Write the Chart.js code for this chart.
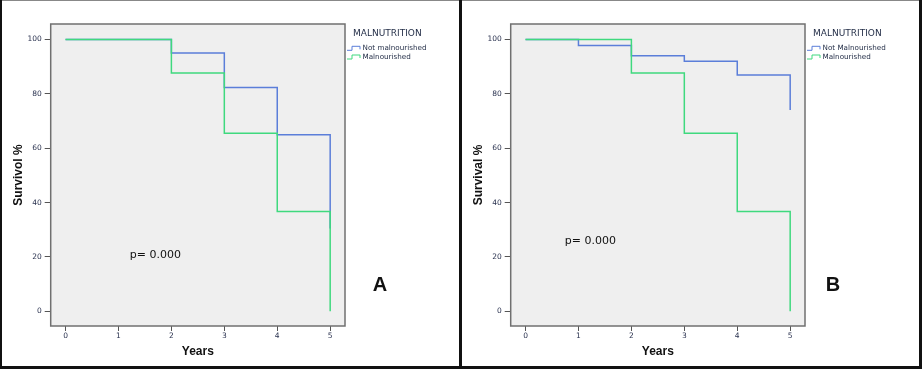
<!DOCTYPE html>
<html lang="en">
<head>
<meta charset="utf-8">
<title>Survival by malnutrition status</title>
<script src="https://cdn.jsdelivr.net/npm/chart.js@4.4.0/dist/chart.umd.min.js"></script>
<style>
  html, body { margin: 0; padding: 0; background: #fff; }
  #frame { position: relative; width: 922px; height: 369px; overflow: hidden; }
  .edge { position: absolute; background: #111; }
  .panel { position: absolute; top: 1px; width: 457px; height: 365px; }
</style>
</head>
<body>
<div id="frame">
  <div class="panel" style="left:2px"><canvas id="chartA" width="457" height="365"></canvas></div>
  <div class="panel" style="left:462px"><canvas id="chartB" width="457" height="365"></canvas></div>
  <div class="edge" style="left:0;top:0;width:922px;height:1px;background:#888"></div>
  <div class="edge" style="left:0;top:0;width:2px;height:369px"></div>
  <div class="edge" style="left:919px;top:0;width:3px;height:369px"></div>
  <div class="edge" style="left:0;top:366px;width:922px;height:3px"></div>
  <div class="edge" style="left:459px;top:0;width:3px;height:369px"></div>
</div>
<script>
  // survival steps
  var yearsA = [0, 2, 3, 4, 5];
  var notMalnourishedA = [100, 95, 82.3, 65, 30.5];
  var malnourishedA = [100, 87.7, 65.5, 36.7, 0];

  var yearsB = [0, 1, 2, 3, 4, 5];
  var notMalnourishedB = [100, 97.8, 94, 92, 86.9, 74.1];
  var yearsBMal = [0, 2, 3, 4, 5];
  var malnourishedB = [100, 87.7, 65.5, 36.7, 0];

  var yearTicks = [0, 1, 2, 3, 4, 5];
  var survivalTicks = [0, 20, 40, 60, 80, 100];

  var BLUE = '#5b7ed9';
  var GREEN = '#3fd97e';
  var TICK_COLOR = '#2b3350';

  function points(xs, ys) {
    return xs.map(function (x, i) { return { x: x, y: ys[i] }; });
  }

  function decor(o) {
    return {
      id: 'decor',
      beforeDraw: function (chart) {
        var ctx = chart.ctx, a = chart.chartArea;
        ctx.save();
        ctx.fillStyle = '#efefef';
        ctx.fillRect(a.left, a.top, a.right - a.left, a.bottom - a.top);
        ctx.restore();
      },
      afterDraw: function (chart) {
        var ctx = chart.ctx, a = chart.chartArea;
        var xs = chart.scales.x, ys = chart.scales.y;
        ctx.save();
        // plot frame
        ctx.strokeStyle = '#707070';
        ctx.lineWidth = 1.5;
        ctx.strokeRect(a.left, a.top, a.right - a.left, a.bottom - a.top);

        // legend
        ctx.fillStyle = '#1f2a44';
        ctx.textBaseline = 'middle';
        ctx.textAlign = 'left';
        ctx.font = '9px "DejaVu Sans"';
        ctx.fillText(o.legendTitle, 351, 32.7);
        ctx.font = '7.2px "DejaVu Sans"';
        chart.data.datasets.forEach(function (ds, i) {
          var y = 47.3 + i * 8.7;
          ctx.strokeStyle = ds.borderColor;
          ctx.lineWidth = 1;
          ctx.beginPath();
          ctx.moveTo(345, y + 2);
          ctx.lineTo(350, y + 2);
          ctx.lineTo(350, y - 2);
          ctx.lineTo(358, y - 2);
          ctx.lineTo(358, y + 1);
          ctx.stroke();
          ctx.fillStyle = '#1f2a44';
          ctx.fillText(ds.label, 360.5, y);
        });

        // p value
        ctx.fillStyle = '#111';
        ctx.font = '11px "DejaVu Sans"';
        ctx.fillText(o.pText, xs.getPixelForValue(o.pAt[0]), ys.getPixelForValue(o.pAt[1]));

        // panel letter
        ctx.font = 'bold 20px "Liberation Sans"';
        ctx.textAlign = 'center';
        ctx.fillText(o.letter, o.letterAt[0], o.letterAt[1]);
        ctx.restore();
      }
    };
  }

  function makeConfig(o) {
    return {
      type: 'line',
      data: {
        datasets: [{
          label: o.labels[0],
          data: points(o.xBlue, o.yBlue),
          borderColor: BLUE,
          order: 1
        }, {
          label: o.labels[1],
          data: points(o.xGreen, o.yGreen),
          borderColor: GREEN,
          order: 0
        }]
      },
      options: {
        responsive: false,
        animation: false,
        layout: { padding: { top: 23, right: 114, left: 0, bottom: 0 } },
        elements: {
          line: { stepped: 'before', borderWidth: 1.5, fill: false },
          point: { radius: 0, hoverRadius: 0 }
        },
        plugins: { legend: { display: false }, tooltip: { enabled: false } },
        scales: {
          x: {
            type: 'linear',
            min: -0.28,
            max: 5.28,
            afterBuildTicks: function (s) { s.ticks = yearTicks.map(function (v) { return { value: v }; }); },
            afterFit: function (s) { s.height = 40; },
            border: { display: false },
            grid: { drawOnChartArea: false, drawTicks: true, tickLength: 5, color: '#555' },
            ticks: { color: TICK_COLOR, padding: 1, maxRotation: 0, font: { family: 'DejaVu Sans', size: 7.5 } },
            title: {
              display: true, text: 'Years', color: '#111',
              font: { family: 'Liberation Sans', size: 12, weight: 'bold' },
              padding: { top: 0, bottom: 7 }
            }
          },
          y: {
            min: -5.4,
            max: 105.7,
            afterBuildTicks: function (s) { s.ticks = survivalTicks.map(function (v) { return { value: v }; }); },
            afterFit: function (s) { s.width = 48.7; },
            border: { display: false },
            grid: { drawOnChartArea: false, drawTicks: true, tickLength: 6, color: '#555' },
            ticks: { color: TICK_COLOR, padding: 3, font: { family: 'DejaVu Sans', size: 7.5 } },
            title: {
              display: true, text: o.yTitle, color: '#111',
              font: { family: 'Liberation Sans', size: 12, weight: 'bold' },
              padding: { top: 9, bottom: 0 }
            }
          }
        }
      },
      plugins: [decor(o)]
    };
  }

  new Chart(document.getElementById('chartA'), makeConfig({
    labels: ['Not malnourished', 'Malnourished'],
    xBlue: yearsA, yBlue: notMalnourishedA,
    xGreen: yearsA, yGreen: malnourishedA,
    yTitle: 'Survivol %',
    legendTitle: 'MALNUTRITION',
    pText: 'p= 0.000', pAt: [1.215, 20.7],
    letter: 'A', letterAt: [378, 284.5]
  }));

  new Chart(document.getElementById('chartB'), makeConfig({
    labels: ['Not Malnourished', 'Malnourished'],
    xBlue: yearsB, yBlue: notMalnourishedB,
    xGreen: yearsBMal, yGreen: malnourishedB,
    yTitle: 'Survival %',
    legendTitle: 'MALNUTRITION',
    pText: 'p= 0.000', pAt: [0.743, 25.9],
    letter: 'B', letterAt: [371, 284]
  }));
</script>
</body>
</html>
